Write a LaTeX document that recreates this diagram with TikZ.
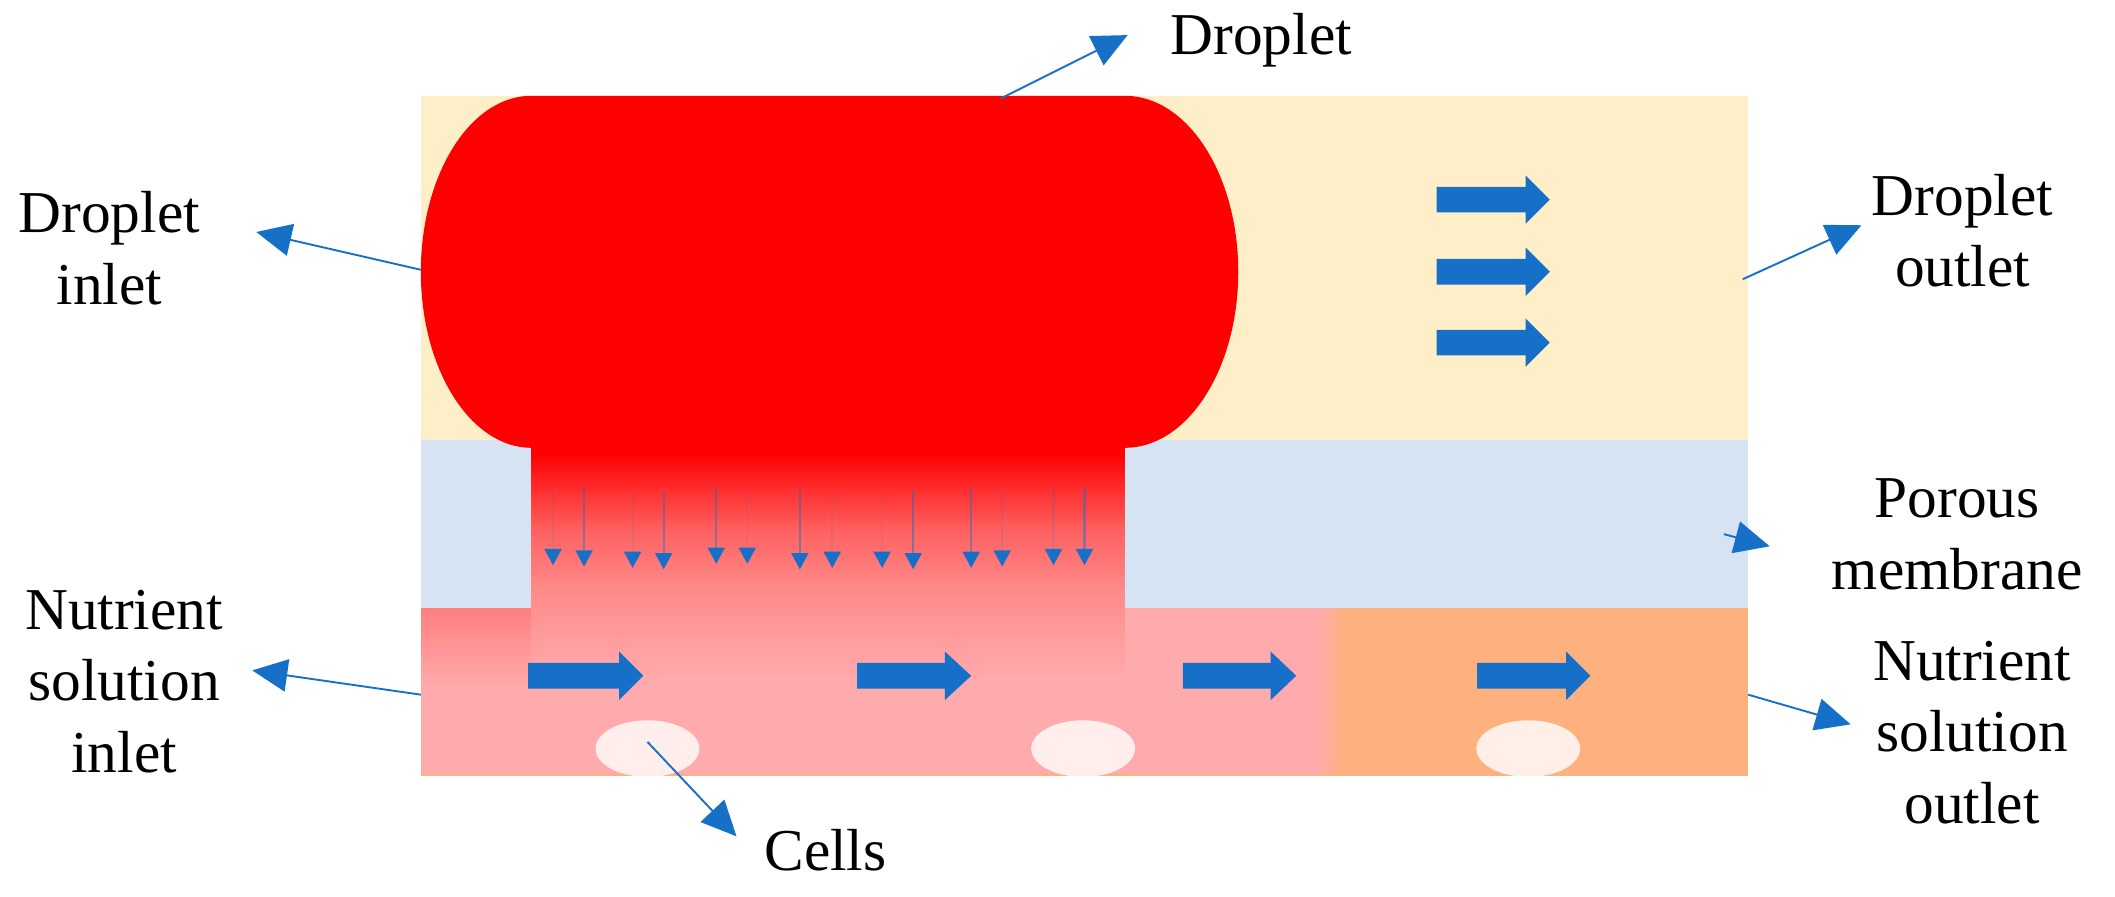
\documentclass[tikz,border=0pt]{standalone}
\usepackage{fontspec}
\setmainfont{Liberation Serif}
\usetikzlibrary{arrows.meta,shapes.geometric}
\definecolor{cyellow}{HTML}{FFEFC9}
\definecolor{cblue}{HTML}{D6E3F3}
\definecolor{corange}{HTML}{FFB07F}
\definecolor{cpink}{HTML}{FFABAD}
\definecolor{cmid}{HTML}{FF8A8A}
\definecolor{cupper}{HTML}{FF6060}
\definecolor{cleft}{HTML}{FF7E7E}
\definecolor{ccell}{HTML}{FFEEEC}
\definecolor{ccellb}{HTML}{FFEFE6}
\definecolor{carrow}{HTML}{1770C8}
\tikzset{
  lbl/.style={align=center,inner sep=0pt,font=\fontsize{22}{26.5}\selectfont,text=black},
  pointer/.style={draw=carrow,line width=0.7pt,-{Triangle[length=13pt,width=12pt,fill=carrow]}},
  bigarrow/.style={fill=carrow},
  cellshape/.style={fill=ccell,ellipse,minimum width=38.5pt,minimum height=21pt,inner sep=0pt},
}
\newcommand{\blockarrow}[4]{%
  \fill[bigarrow] (#1,#4-9.5) -- (#2,#4-9.5) -- (#2,#4-18) -- (#3,#4) -- (#2,#4+18) -- (#2,#4+9.5) -- (#1,#4+9.5) -- cycle;}
\newcommand{\seep}[4]{%
  \draw[carrow,line width=0.8pt,opacity=#4] (#1,#2) -- (#1,#3-10);
  \fill[carrow] (#1-6.5,#3-12) -- (#1+6.5,#3-12) -- (#1,#3) -- cycle;}
% vertical colour ramp in thin overlapping strips: x1,x2,y1,y2,from,to
\newcommand{\vramp}[6]{%
  \foreach \k in {0,...,39}{%
    \pgfmathsetmacro\pct{\k*2.5+1.25}%
    \pgfmathsetmacro\ya{#3+(#4-#3)*\k/40}%
    \pgfmathsetmacro\yb{#3+(#4-#3)*(\k+1.5)/40}%
    \fill[#6!\pct!#5] (#1,\ya) rectangle (#2,\yb);}}
% horizontal colour ramp: x1,x2,y1,y2,from,to
\newcommand{\hramp}[6]{%
  \foreach \k in {0,...,19}{%
    \pgfmathsetmacro\pct{\k*5+2.5}%
    \pgfmathsetmacro\xa{#1+(#2-#1)*\k/20}%
    \pgfmathsetmacro\xb{#1+(#2-#1)*(\k+1.5)/20}%
    \fill[#6!\pct!#5] (\xa,#3) rectangle (\xb,#4);}}
\begin{document}
\begin{tikzpicture}[x=0.5pt,y=-0.5pt]
\useasboundingbox (0,0) rectangle (1568,665);
% channels
\fill[cyellow] (312,71) rectangle (1296,326);
\fill[cblue] (312,326) rectangle (1296,452);
\fill[corange] (312,451) rectangle (1296,575);
% solution front
\fill[cpink] (834,451) rectangle (976,574);
\hramp{975.5}{998}{451}{574}{cpink}{corange}
\vramp{312}{398}{451}{510}{cleft}{cpink}
\fill[cpink] (312,509.5) rectangle (398,574);
% droplet and neck
\fill[red] (394,332) arc[start angle=90,end angle=270,x radius=82,y radius=130.5]
  -- (834,71) arc[start angle=270,end angle=450,x radius=84,y radius=130.5] -- cycle;
\fill[red] (394,330) rectangle (834,337);
\vramp{394}{834}{336}{393}{red}{cupper}
\vramp{394}{834}{393}{437}{cupper}{cmid}
\vramp{394}{834}{437}{505}{cmid}{cpink}
\fill[cpink] (394,504.5) rectangle (834,574);
% cells
\begin{scope}
\clip (312,451) rectangle (1296,575);
\node[cellshape] (cellA) at (480,555) {};
\node[cellshape] (cellB) at (803,555) {};
\node[cellshape,fill=ccellb] (cellC) at (1133,555) {};
\end{scope}
% flow arrows
\blockarrow{1065}{1131}{1149}{148}
\blockarrow{1065}{1131}{1149}{201.5}
\blockarrow{1065}{1131}{1149}{254}
\blockarrow{391.5}{459}{477}{501}
\blockarrow{635.5}{700.5}{720}{501}
\blockarrow{877}{942}{961}{501}
\blockarrow{1095}{1161}{1179}{501}
% seepage arrows
\seep{410}{362}{419}{.1}
\seep{433}{362}{420}{.45}
\seep{469}{364}{421}{.1}
\seep{492}{364}{422}{.45}
\seep{531}{361}{418}{.45}
\seep{554}{361}{418}{.08}
\seep{593}{364}{422}{.5}
\seep{617}{364}{421}{.1}
\seep{654}{364}{421}{.06}
\seep{677}{364}{422}{.5}
\seep{720}{362}{421}{.45}
\seep{743}{362}{420}{.12}
\seep{781}{361}{419}{.12}
\seep{804}{361}{419}{.45}
% labels
\node[lbl] (tDrop) at (935,30) {Droplet};
\node[lbl] (tDin) at (81,184) {Droplet\\inlet};
\node[lbl] (tDout) at (1455,171) {Droplet\\outlet};
\node[lbl] (tPor) at (1451,396) {Porous\\membrane};
\node[lbl] (tNin) at (92,505) {Nutrient\\solution\\inlet};
\node[lbl] (tNout) at (1462,543) {Nutrient\\solution\\outlet};
\node[lbl] (tCell) at (612,630) {Cells};
% connector ends
\coordinate (a1) at (742,73);  \coordinate (b1) at (836,26);
\coordinate (a2) at (312,200); \coordinate (b2) at (190,172);
\coordinate (a3) at (1292,207);\coordinate (b3) at (1380,167);
\coordinate (a4) at (1278,396);\coordinate (b4) at (1312,405);
\coordinate (a5) at (312,515); \coordinate (b5) at (187,497);
\coordinate (a6) at (1296,515);\coordinate (b6) at (1372,537);
\coordinate (a7) at (480,550); \coordinate (b7) at (546,620);
\draw[pointer] (a1) -- (b1);
\draw[pointer] (a2) -- (b2);
\draw[pointer] (a3) -- (b3);
\draw[pointer] (a4) -- (b4);
\draw[pointer] (a5) -- (b5);
\draw[pointer] (a6) -- (b6);
\draw[pointer] (a7) -- (b7);
\end{tikzpicture}
\end{document}
